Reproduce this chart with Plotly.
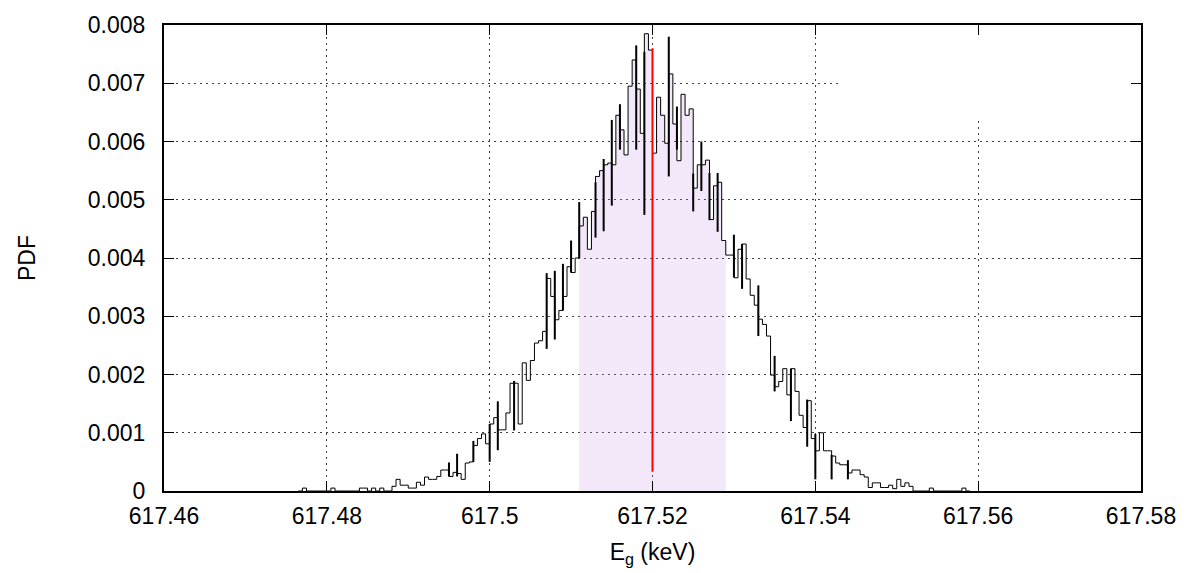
import numpy as np
import plotly.graph_objects as go

# ---------------- data ----------------
bin_start = 617.4765      # left edge of first bin (keV)
bin_width = 0.0005        # keV
pdf_values = [
    0, 0.00005, 0, 0, 0, 0, 0, 0, 0.00005, 0,
    0, 0, 0, 0, 0, 0.00005, 0.00005, 0, 0.00005, 0,
    0.00005, 0, 0, 0.00008, 0.0002, 0.0001, 0.0001, 0.00005, 0.00005, 0.00015,
    0.0001, 0.00024, 0.0002, 0.0002, 0.00025, 0.00036, 0.00036, 0.00025, 0.00032, 0.0003,
    0.0002, 0.00048, 0.0005, 0.00078, 0.0009, 0.00098, 0.00081, 0.00115, 0.00126, 0.00105,
    0.00105, 0.00134, 0.00185, 0.00185, 0.00115, 0.0022, 0.0019, 0.00224, 0.00254, 0.00258,
    0.00274, 0.00365, 0.00334, 0.00294, 0.0031, 0.00334, 0.00385, 0.00375, 0.004, 0.00455,
    0.0047, 0.00415, 0.0048, 0.0054, 0.0055, 0.0056, 0.00563, 0.0056, 0.00645, 0.0062,
    0.00577, 0.00695, 0.0074, 0.0069, 0.00614, 0.00785, 0.00757, 0.0058, 0.00676, 0.00645,
    0.00597, 0.00716, 0.0063, 0.00567, 0.00681, 0.00645, 0.00656, 0.0052, 0.0056, 0.0056,
    0.00568, 0.00466, 0.00524, 0.0053, 0.0043, 0.00405, 0.00405, 0.00366, 0.00415, 0.00424,
    0.00364, 0.00336, 0.00319, 0.00295, 0.00286, 0.00266, 0.00199, 0.00179, 0.00188, 0.0021,
    0.00165, 0.0021, 0.00171, 0.0013, 0.00109, 0.00155, 0.0009, 0.00069, 0.001, 0.00069,
    0.00069, 0.0006, 0.00048, 0.00045, 0.00045, 0.00031, 0.00036, 0.00036, 0.00028, 0.00024,
    0.00006, 0.00014, 0.00014, 0.00006, 0.00006, 0.0001, 0.00004, 0.0002, 0.00008, 0.00014,
    0.00008, 0, 0, 0, 0, 0.00005, 0, 0, 0, 0,
    0, 0, 0, 0.00005, 0,
]

# narrow spikes of the histogram (position, low, high)
spike_x = [617.495, 617.496, 617.498, 617.500, 617.501, 617.503, 617.507, 617.508,
           617.509, 617.510, 617.511, 617.513, 617.514, 617.515, 617.516, 617.518,
           617.519, 617.522, 617.523, 617.525, 617.526, 617.527, 617.528, 617.530,
           617.531, 617.533, 617.535, 617.537, 617.539, 617.540, 617.542, 617.544]
spike_low = [0.00025, 0.00025, 0.0005, 0.0005, 0.0007, 0.00104, 0.00244, 0.0026,
             0.0031, 0.00375, 0.004, 0.00435, 0.00446, 0.0049, 0.00586, 0.00586,
             0.00474, 0.0054, 0.00586, 0.0048, 0.00515, 0.00465, 0.00445, 0.00367,
             0.00347, 0.00266, 0.00171, 0.0012, 0.00076, 0.0002, 0.0002, 0.0002]
spike_high = [0.00049, 0.00064, 0.00086, 0.00115, 0.00154, 0.00189, 0.00374, 0.00378,
              0.0039, 0.0043, 0.00496, 0.0053, 0.0057, 0.00637, 0.00664, 0.00765,
              0.00754, 0.0078, 0.0066, 0.00545, 0.006, 0.00546, 0.00546, 0.0044,
              0.00424, 0.00353, 0.00232, 0.0021, 0.00157, 0.00098, 0.00062, 0.00053]

interval_low = 617.511     # shaded interval
interval_high = 617.529
mean_value = 617.520       # red line
mean_line_y = [0.00033, 0.0076]

x_range = [617.46, 617.58]
y_range = [0, 0.008]
x_tick_vals = [617.46, 617.48, 617.50, 617.52, 617.54, 617.56, 617.58]
x_tick_labels = ["617.46", "617.48", "617.5", "617.52", "617.54", "617.56", "617.58"]
y_tick_vals = [0, 0.001, 0.002, 0.003, 0.004, 0.005, 0.006, 0.007, 0.008]
y_tick_labels = ["0", "0.001", "0.002", "0.003", "0.004", "0.005", "0.006", "0.007", "0.008"]

# ---------------- derived step curve ----------------
vals = np.array(pdf_values, dtype=float)
edges = bin_start + bin_width * np.arange(len(vals) + 1)
step_x = np.concatenate([[edges[0]], edges])
step_y = np.concatenate([[0.0], vals, [0.0]])

# shaded part of the step curve
mask = (edges[:-1] >= interval_low - 1e-9) & (edges[1:] <= interval_high + 1e-9)
sel = np.where(mask)[0]
fill_x = np.concatenate([[edges[sel[0]]], edges[sel], [edges[sel[-1] + 1]]])
fill_y = np.concatenate([[0.0], vals[sel], [vals[sel[-1]]]])

sx, sy = [], []
for x, lo, hi in zip(spike_x, spike_low, spike_high):
    sx += [x, x, None]
    sy += [lo, hi, None]

FONT = "Liberation Sans, Arial, Helvetica, sans-serif"

fig = go.Figure()
fig.add_trace(go.Scatter(x=fill_x, y=fill_y, mode="lines", line=dict(width=0, shape="hv"),
                         fill="tozeroy", fillcolor="rgba(190,140,230,0.2)",
                         hoverinfo="skip", showlegend=False))
fig.add_trace(go.Scatter(x=step_x, y=step_y, mode="lines",
                         line=dict(color="black", width=1, shape="hv"),
                         showlegend=False))
fig.add_trace(go.Scatter(x=sx, y=sy, mode="lines", line=dict(color="black", width=2),
                         showlegend=False, connectgaps=False))
fig.add_trace(go.Scatter(x=[mean_value, mean_value], y=mean_line_y, mode="lines",
                         line=dict(color="red", width=2), showlegend=False))

# blank (empty key) region that hides the grid in the top-right corner
fig.add_shape(type="rect", xref="x", yref="y", x0=617.543, x1=617.58, y0=0.00637, y1=0.008,
              fillcolor="white", line=dict(width=0), layer="between")

axis_common = dict(
    showline=True, linewidth=2, linecolor="black", mirror="ticks",
    ticks="inside", ticklen=10, tickwidth=1, tickcolor="black",
    showgrid=True, gridcolor="rgba(0,0,0,0.75)", gridwidth=1, griddash="2px,4px",
    zeroline=False, tickfont=dict(family=FONT, size=23, color="black"),
)

fig.update_layout(
    width=1188, height=573,
    margin=dict(l=164, r=47, t=16, b=81),
    paper_bgcolor="white", plot_bgcolor="white",
    font=dict(family=FONT, size=23, color="black"),
    xaxis=dict(range=x_range, tickmode="array", tickvals=x_tick_vals, ticktext=x_tick_labels,
               title=dict(text="E<sub>g</sub> (keV)", font=dict(family=FONT, size=23), standoff=16),
               ticklabelstandoff=3, **axis_common),
    yaxis=dict(range=y_range, tickmode="array", tickvals=y_tick_vals, ticktext=y_tick_labels,
               title=dict(text="PDF", font=dict(family=FONT, size=23), standoff=46),
               ticklabelstandoff=12, **axis_common),
)

fig.write_html("out.html")
